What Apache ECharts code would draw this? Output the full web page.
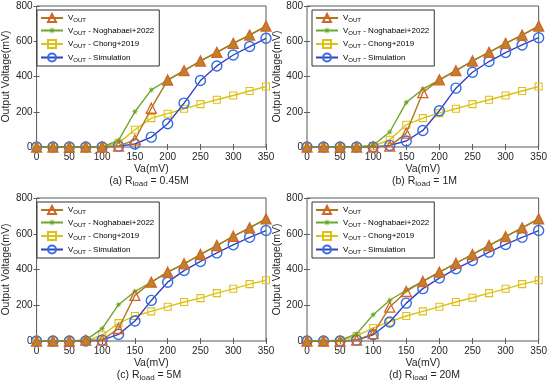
<!DOCTYPE html>
<html><head><meta charset="utf-8">
<script src="https://cdn.jsdelivr.net/npm/echarts@6/dist/echarts.min.js"></script>
<style>html,body{margin:0;padding:0;background:#fff}#c{width:550px;height:384px}</style>
</head><body><div id="c"></div>
<script>
// ---- data ----
const xVals = [0,25,50,75,100,125,150,175,200,225,250,275,300,325,350];
const xTicks = [0,50,100,150,200,250,300,350];
const yTicks = [0,200,400,600,800];
const panelTitles = ['(a) R|load| = 0.45M','(b) R|load| = 1M','(c) R|load| = 5M','(d) R|load| = 20M'];
const seriesNames = ['VOUT','Noghabaei+2022','Chong+2019','Simulation'];

const vout_a  = [0,0,0,0,0,5,40,220,380,433,488,537,588,635,686];
const nogh_a  = [0,0,0,0,0,38,200,324,380,433,488,537,588,635,686];
const chong_a = [0,0,0,0,0,22,98,164,189,217,243,268,292,318,343];
const sim_a   = [0,0,0,0,0,5,17,56,132,249,377,460,522,570,617];

const vout_b  = [0,0,0,0,0,5,79,309,381,433,488,537,588,635,686];
const nogh_b  = [0,0,0,0,10,85,253,328,381,433,488,537,588,635,686];
const chong_b = [0,0,0,0,5,41,126,164,192,217,243,268,292,318,343];
const sim_b   = [0,0,0,0,0,9,34,94,206,334,424,485,536,579,620];

const vout_c  = [0,0,0,5,5,70,255,329,385,432,484,534,586,633,683];
const nogh_c  = [0,0,0,5,69,203,277,329,385,432,484,534,586,633,683];
const chong_c = [0,0,0,0,32,100,140,166,192,218,240,268,292,318,340];
const sim_c   = [0,0,0,0,5,37,112,227,329,394,445,493,538,580,618];

const vout_d  = [0,0,0,5,41,190,277,333,385,435,484,534,584,633,683];
const nogh_d  = [0,0,5,40,147,228,284,333,385,435,484,534,584,633,683];
const chong_d = [0,0,3,28,73,108,140,166,192,218,242,268,292,318,340];
const sim_d   = [0,0,0,5,35,106,212,293,352,404,450,497,540,580,618];

const panels = [
  [vout_a, nogh_a, chong_a, sim_a],
  [vout_b, nogh_b, chong_b, sim_b],
  [vout_c, nogh_c, chong_c, sim_c],
  [vout_d, nogh_d, chong_d, sim_d]
];

// ---- layout / style ----
const grids = [
  {left:32, top:6, width:234, height:141},
  {left:307, top:6, width:235, height:141},
  {left:32, top:198, width:234, height:143},
  {left:307, top:198, width:235, height:143}
];
const FONT = 'Liberation Sans, Arial, sans-serif';
const TXT = '#262626';

function starPath(){
  let d = '';
  for (let i=0;i<16;i++){
    const r = (i%2) ? 3.5 : 10;
    const a = i*Math.PI/8 - Math.PI/2;
    const x = (10 + r*Math.cos(a)).toFixed(2), y = (10 + r*Math.sin(a)).toFixed(2);
    d += (i===0?'M':'L') + x + ',' + y;
  }
  return 'path://' + d + 'Z';
}
const STAR = starPath();

const styles = {
  'VOUT': {symbol:'triangle', symbolSize:10, line:'#A87A1C', edge:'#D8602A', fill:'rgba(255,255,255,0)', bw:1.3, z:5},
  'Noghabaei+2022': {symbol:STAR, symbolSize:7, line:'#6FA52C', edge:'#6FA52C', fill:'#6FA52C', bw:0, z:4},
  'Chong+2019': {symbol:'rect', symbolSize:7, line:'#D9C21A', edge:'#E3BE12', fill:'rgba(255,255,255,0)', bw:1.1, z:2},
  'Simulation': {symbol:'circle', symbolSize:10, line:'#3A3CC4', edge:'#2E6FE2', fill:'rgba(255,255,255,0)', bw:1.4, z:3}
};
const OVERLAP_FILL = '#B8862A';

const option = {
  animation:false,
  backgroundColor:'#fff',
  textStyle:{fontFamily:FONT},
  grid:[], xAxis:[], yAxis:[], series:[], legend:[], title:[]
};

const legendLabels = {
  'VOUT':'{a|V}{s|OUT}',
  'Noghabaei+2022':'{a|V}{s|OUT}{a| - Noghabaei+2022}',
  'Chong+2019':'{a|V}{s|OUT}{a| - Chong+2019}',
  'Simulation':'{a|V}{s|OUT}{a| - Simulation}'
};

grids.forEach((g,k)=>{
  option.grid.push(Object.assign({show:true, borderColor:'#5a5a5a', borderWidth:1, backgroundColor:'#fff'}, g));
  const xBase = {type:'value', gridIndex:k, min:xTicks[0], max:xTicks[xTicks.length-1], interval:xTicks[1]-xTicks[0],
    splitLine:{show:false}, axisLine:{show:false}};
  const yBase = {type:'value', gridIndex:k, min:yTicks[0], max:yTicks[yTicks.length-1], interval:yTicks[1]-yTicks[0],
    splitLine:{show:false}, axisLine:{show:false}};
  option.xAxis.push(Object.assign({}, xBase, {position:'bottom',
    axisTick:{show:true, inside:true, length:3, lineStyle:{color:'#5a5a5a'}},
    axisLabel:{color:TXT, fontSize:10, fontFamily:FONT, margin:5},
    name:'Va(mV)', nameLocation:'middle', nameGap:17, nameTextStyle:{color:TXT, fontSize:10.5, fontFamily:FONT}}));
  option.xAxis.push(Object.assign({}, xBase, {position:'top',
    axisTick:{show:true, inside:true, length:3, lineStyle:{color:'#5a5a5a'}}, axisLabel:{show:false}}));
  option.yAxis.push(Object.assign({}, yBase, {position:'left',
    axisTick:{show:true, inside:true, length:3, lineStyle:{color:'#5a5a5a'}},
    axisLabel:{color:TXT, fontSize:10, fontFamily:FONT, margin:4},
    name:'Output Voltage(mV)', nameLocation:'middle', nameGap:21, nameRotate:90,
    nameTextStyle:{color:TXT, fontSize:10.5, fontFamily:FONT}}));
  option.yAxis.push(Object.assign({}, yBase, {position:'right',
    axisTick:{show:true, inside:true, length:3, lineStyle:{color:'#5a5a5a'}}, axisLabel:{show:false}}));

  seriesNames.forEach((nm,i)=>{
    const st = styles[nm];
    const data = xVals.map((x,j)=>{
      const v = panels[k][i][j];
      // where the VOUT triangle sits on a Noghabaei star, it reads as a filled marker
      if (nm === 'VOUT' && panels[k][1][j] === v) {
        return {value:[x, v], itemStyle:{color:OVERLAP_FILL}};
      }
      return [x, v];
    });
    option.series.push({
      type:'line', name:nm, xAxisIndex:2*k, yAxisIndex:2*k, z:st.z,
      data: data,
      symbol:st.symbol, symbolSize:st.symbolSize, showAllSymbol:true,
      lineStyle:{color:st.line, width:1.4},
      itemStyle:{color:st.fill, borderColor:st.edge, borderWidth:st.bw},
      emphasis:{disabled:true}
    });
  });

  option.legend.push({
    orient:'vertical', left:g.left+5, top:g.top+4,
    data:['VOUT','Noghabaei+2022','Chong+2019','Simulation'],
    itemWidth:22, itemHeight:10, itemGap:3,
    padding:[3,5,3,3], borderColor:'#333', borderWidth:1, backgroundColor:'#fff',
    formatter:(n)=>legendLabels[n],
    textStyle:{fontFamily:FONT, color:'#000', rich:{
      a:{fontSize:8, fontFamily:FONT, color:'#000'},
      s:{fontSize:6, fontFamily:FONT, color:'#000', padding:[5,0,0,0]}
    }},
    selectedMode:false
  });

  const parts = panelTitles[k].split('|');
  option.title.push({
    text:'{n|'+parts[0]+'}{s|'+parts[1]+'}{n|'+parts[2]+'}',
    left:g.left+g.width/2, top:g.top+g.height+27, textAlign:'center', padding:0,
    textStyle:{fontWeight:'normal', rich:{
      n:{fontSize:10.5, fontFamily:FONT, color:TXT, fontWeight:'normal'},
      s:{fontSize:8, fontFamily:FONT, color:TXT, fontWeight:'normal', padding:[6,0,0,0]}
    }}
  });
});

const chart = echarts.init(document.getElementById('c'), null, {renderer:'canvas'});
chart.setOption(option);
</script></body></html>
